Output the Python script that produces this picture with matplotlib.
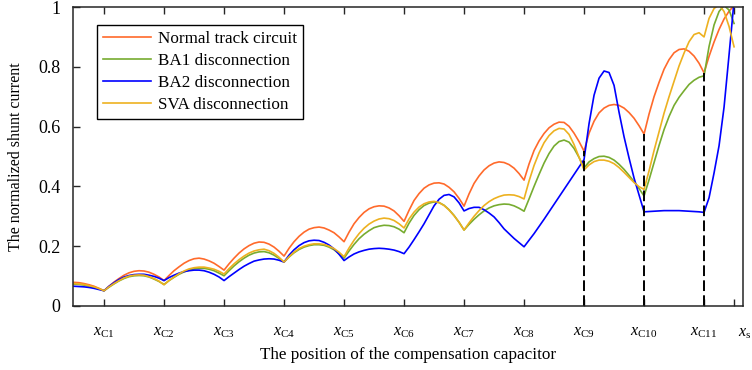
import numpy as np
import matplotlib
matplotlib.use('Agg')
import matplotlib.pyplot as plt
from matplotlib.ticker import FuncFormatter

plt.rcParams['font.family'] = 'serif'
plt.rcParams['font.serif'] = ['Liberation Serif', 'DejaVu Serif']
plt.rcParams['mathtext.fontset'] = 'custom'
plt.rcParams['mathtext.rm'] = 'Liberation Serif'
plt.rcParams['mathtext.it'] = 'Liberation Serif:italic'
plt.rcParams['font.size'] = 11.5

# position along the section, in units of capacitor spacing (C1 = 1 ... C11 = 11, receiver end = 11.5)
x = np.concatenate([0.5 + np.arange(102) / 12, 9 + np.arange(31) / 12])

normal = [0.079, 0.078, 0.075, 0.071, 0.066, 0.059,
          0.051, 0.066, 0.080, 0.092, 0.103, 0.111, 0.116, 0.118, 0.117, 0.113, 0.106, 0.097,
          0.085, 0.102, 0.118, 0.131, 0.143, 0.152, 0.158, 0.160, 0.157, 0.151, 0.143, 0.132,
          0.120, 0.141, 0.160, 0.177, 0.191, 0.202, 0.210, 0.214, 0.213, 0.207, 0.197, 0.183,
          0.167, 0.193, 0.215, 0.233, 0.247, 0.257, 0.262, 0.264, 0.261, 0.254, 0.245, 0.231,
          0.215, 0.247, 0.275, 0.296, 0.313, 0.325, 0.332, 0.335, 0.334, 0.328, 0.318, 0.302,
          0.283, 0.320, 0.353, 0.376, 0.394, 0.405, 0.411, 0.412, 0.408, 0.397, 0.382, 0.360,
          0.334, 0.375, 0.410, 0.435, 0.455, 0.469, 0.478, 0.482, 0.480, 0.473, 0.461, 0.443,
          0.421, 0.475, 0.520, 0.552, 0.577, 0.596, 0.608, 0.615, 0.614, 0.601, 0.578, 0.550,
          0.518, 0.578, 0.618, 0.646, 0.662, 0.671, 0.674, 0.671, 0.662, 0.647, 0.628, 0.603,
          0.575, 0.642, 0.700, 0.748, 0.792, 0.824, 0.847, 0.858, 0.860, 0.852, 0.836, 0.812,
          0.780, 0.835, 0.883, 0.925, 0.960, 0.986, 1.005]

ba1 = [0.073, 0.072, 0.070, 0.066, 0.062, 0.057,
       0.051, 0.063, 0.074, 0.084, 0.092, 0.098, 0.101, 0.102, 0.101, 0.097, 0.090, 0.082,
       0.072, 0.085, 0.096, 0.106, 0.114, 0.120, 0.124, 0.126, 0.126, 0.123, 0.118, 0.110,
       0.101, 0.118, 0.134, 0.148, 0.160, 0.170, 0.177, 0.181, 0.182, 0.178, 0.170, 0.159,
       0.147, 0.164, 0.178, 0.189, 0.197, 0.202, 0.205, 0.205, 0.203, 0.197, 0.188, 0.175,
       0.160, 0.184, 0.206, 0.225, 0.240, 0.252, 0.262, 0.267, 0.270, 0.269, 0.265, 0.257,
       0.245, 0.277, 0.303, 0.322, 0.336, 0.344, 0.348, 0.346, 0.337, 0.322, 0.303, 0.280,
       0.254, 0.273, 0.290, 0.305, 0.318, 0.328, 0.335, 0.339, 0.341, 0.340, 0.335, 0.327,
       0.317, 0.358, 0.400, 0.440, 0.478, 0.510, 0.535, 0.550, 0.555, 0.548, 0.527, 0.497,
       0.462, 0.482, 0.493, 0.500, 0.501, 0.497, 0.488, 0.474, 0.457, 0.437, 0.416, 0.393,
       0.368, 0.422, 0.480, 0.537, 0.590, 0.634, 0.671, 0.698, 0.720, 0.741, 0.755, 0.765,
       0.770, 0.868, 0.940, 0.985, 1.005, 0.990, 0.945]

ba2 = [0.066, 0.065, 0.064, 0.062, 0.059, 0.055,
       0.051, 0.066, 0.078, 0.089, 0.097, 0.102, 0.105, 0.106, 0.106, 0.103, 0.099, 0.093,
       0.085, 0.095, 0.103, 0.110, 0.115, 0.118, 0.120, 0.120, 0.118, 0.113, 0.106, 0.097,
       0.085, 0.098, 0.110, 0.122, 0.133, 0.142, 0.150, 0.154, 0.157, 0.158, 0.157, 0.153,
       0.147, 0.170, 0.188, 0.202, 0.212, 0.218, 0.220, 0.219, 0.213, 0.204, 0.191, 0.173,
       0.152, 0.164, 0.174, 0.181, 0.186, 0.190, 0.192, 0.193, 0.192, 0.190, 0.187, 0.182,
       0.175, 0.197, 0.222, 0.248, 0.275, 0.305, 0.335, 0.357, 0.370, 0.373, 0.365, 0.345,
       0.318, 0.326, 0.330, 0.330, 0.322, 0.311, 0.298, 0.279, 0.258, 0.242, 0.226, 0.212,
       0.198, 0.220, 0.242, 0.266, 0.290, 0.315, 0.340, 0.365, 0.390, 0.415, 0.440, 0.465,
       0.490, 0.610, 0.705, 0.762, 0.786, 0.781, 0.738, 0.648, 0.566, 0.495, 0.428, 0.372,
       0.315, 0.316, 0.317, 0.318, 0.319, 0.319, 0.319, 0.319, 0.318, 0.317, 0.316, 0.315,
       0.313, 0.362, 0.445, 0.536, 0.665, 0.840, 1.020]

sva = [0.075, 0.074, 0.072, 0.068, 0.064, 0.058,
       0.051, 0.064, 0.075, 0.085, 0.094, 0.100, 0.103, 0.104, 0.103, 0.098, 0.092, 0.083,
       0.071, 0.085, 0.097, 0.108, 0.117, 0.124, 0.128, 0.130, 0.130, 0.127, 0.123, 0.116,
       0.107, 0.125, 0.141, 0.155, 0.167, 0.177, 0.184, 0.188, 0.190, 0.185, 0.176, 0.163,
       0.147, 0.165, 0.180, 0.192, 0.200, 0.205, 0.208, 0.208, 0.206, 0.200, 0.192, 0.180,
       0.165, 0.194, 0.220, 0.242, 0.260, 0.274, 0.284, 0.291, 0.294, 0.292, 0.286, 0.275,
       0.261, 0.291, 0.314, 0.331, 0.342, 0.348, 0.350, 0.346, 0.336, 0.321, 0.302, 0.280,
       0.254, 0.278, 0.300, 0.319, 0.336, 0.349, 0.359, 0.366, 0.371, 0.372, 0.371, 0.366,
       0.358, 0.418, 0.470, 0.512, 0.546, 0.570, 0.586, 0.594, 0.592, 0.574, 0.540, 0.498,
       0.455, 0.472, 0.483, 0.488, 0.488, 0.484, 0.476, 0.463, 0.447, 0.430, 0.413, 0.399,
       0.390, 0.452, 0.520, 0.582, 0.645, 0.700, 0.752, 0.803, 0.846, 0.884, 0.908, 0.914,
       0.900, 0.962, 0.995, 1.008, 0.985, 0.935, 0.867]

tick_pos = [1, 2, 3, 4, 5, 6, 7, 8, 9, 10, 11, 11.5]
tick_labels = [r'$x_{\mathrm{C%d}}$' % i for i in range(1, 12)] + ['']
dash_nodes = [9, 10, 11]

fig = plt.figure(figsize=(7.52, 3.70), dpi=100)
ax = fig.add_axes([0.0971, 0.173, 0.891, 0.808])

lw = 1.2
ax.plot(x, normal, color='#FF6A2B', lw=lw, label='Normal track circuit')
ax.plot(x, ba1, color='#77AC30', lw=lw, label='BA1 disconnection')
ax.plot(x, ba2, color='#0000FF', lw=lw, label='BA2 disconnection')
ax.plot(x, sva, color='#EDB120', lw=lw, label='SVA disconnection')

# dashed markers under the last three capacitors, up to the normal curve
xr = list(np.round(x, 4))
for n in dash_nodes:
    top = normal[xr.index(n)]
    ax.plot([n, n], [0, top], color='black', lw=1.4, ls=(0, (5.5, 2.2)))

ax.set_xlim(0.483, 11.65)
ax.set_ylim(0, 1)
ax.set_xticks(tick_pos)
ax.set_xticklabels(tick_labels)
ax.text(11.5 + 11 / 60, -0.09, r'$x_{\mathrm{s}}$', ha='center', va='center', clip_on=False)
ax.set_yticks([0, 0.2, 0.4, 0.6, 0.8, 1.0])
ax.yaxis.set_major_formatter(FuncFormatter(lambda v, p: '%g' % v))

ax.tick_params(axis='x', direction='in', top=True, length=5, width=1, pad=13, colors='#262626', labelcolor='black')
ax.tick_params(axis='y', direction='in', right=False, length=5, width=1, pad=9, colors='#262626',
               labelcolor='black', labelsize=13)
for s in ax.spines.values():
    s.set_color('#262626')
    s.set_linewidth(1.1)

ax.set_xlabel('The position of the compensation capacitor', fontsize=12.3, labelpad=5)
ax.set_ylabel('The normalized shunt current', labelpad=10)

leg = ax.legend(loc='upper left', bbox_to_anchor=(0.036, 0.94), fancybox=False, fontsize=12.3,
                framealpha=1, edgecolor='black', handlelength=2.8, handletextpad=0.4,
                labelspacing=0.35, borderpad=0.35, borderaxespad=0)
leg.get_frame().set_linewidth(1.0)

plt.savefig('out.png', dpi=100)
